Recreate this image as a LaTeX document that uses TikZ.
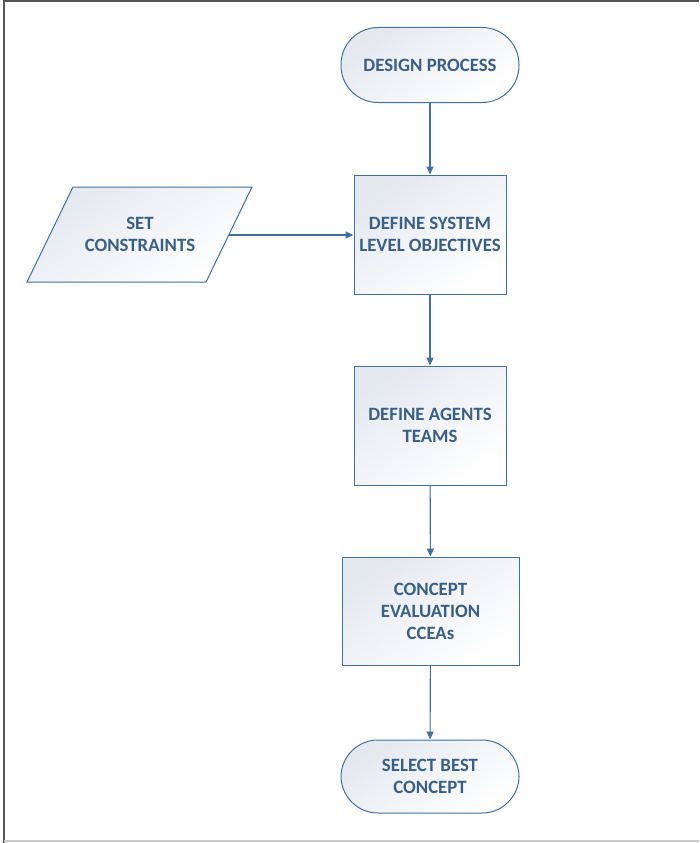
\documentclass[tikz,border=0pt]{standalone}
\usepackage{fontspec}
\setmainfont{Carlito}
\usetikzlibrary{arrows.meta}
\definecolor{edgeblue}{HTML}{41719C}
\definecolor{txtblue}{HTML}{3A5F87}
\definecolor{shadeA}{HTML}{E4E8EF}
\definecolor{frameA}{HTML}{555555}
\definecolor{frameB}{HTML}{C8C8C8}
\tikzset{
  x=1pt, y=-1pt,
  boxfill/.style={draw=edgeblue, line width=1pt, top color=shadeA, bottom color=white, shading angle=35},
  lbl/.style={text=txtblue, font=\fontsize{18.8}{22}\selectfont\bfseries, align=center},
  procbox/.style={boxfill, lbl, rectangle, inner sep=0pt},
  termbox/.style={boxfill, lbl, rectangle, rounded corners=37pt, minimum width=178pt, minimum height=75pt, inner sep=0pt},
  flow/.style={draw=edgeblue, line width=1.1pt, -{Triangle[length=8pt,width=7pt]}}
}
\begin{document}
\begin{tikzpicture}
\useasboundingbox (0,0) rectangle (699,843);
% frame
\draw[frameA, line width=2pt] (4,843) -- (4,1.5) -- (699,1.5);
\draw[frameB, line width=2pt] (4,841) -- (699,841);
% nodes
\node[termbox] (dp) at (430,65) {DESIGN PROCESS};
\node[procbox, minimum width=152pt, minimum height=119pt] (dso) at (430,234.5) {DEFINE SYSTEM\\LEVEL OBJECTIVES};
\node[procbox, minimum width=152pt, minimum height=119pt] (dat) at (430,425.5) {DEFINE AGENTS\\TEAMS};
\node[procbox, minimum width=177pt, minimum height=108pt] (ce) at (430.5,611) {CONCEPT\\EVALUATION\\CCEAs};
\node[termbox, minimum height=73pt] (sb) at (430,776.5) {SELECT BEST\\CONCEPT};
% parallelogram
\shade[boxfill] (73,187) -- (252,187) -- (206,282) -- (27,282) -- cycle;
\node[lbl] (sc) at (140,234.5) {SET\\CONSTRAINTS};
\coordinate (scr) at (229,235);
% connectors
\draw[flow] (dp) -- (dso);
\draw[flow] (scr) -- (scr -| dso.west);
\draw[flow] (dso) -- (dat);
\draw[flow] (dat) -- (ce);
\draw[flow] (ce) -- (sb);
\end{tikzpicture}
\end{document}
